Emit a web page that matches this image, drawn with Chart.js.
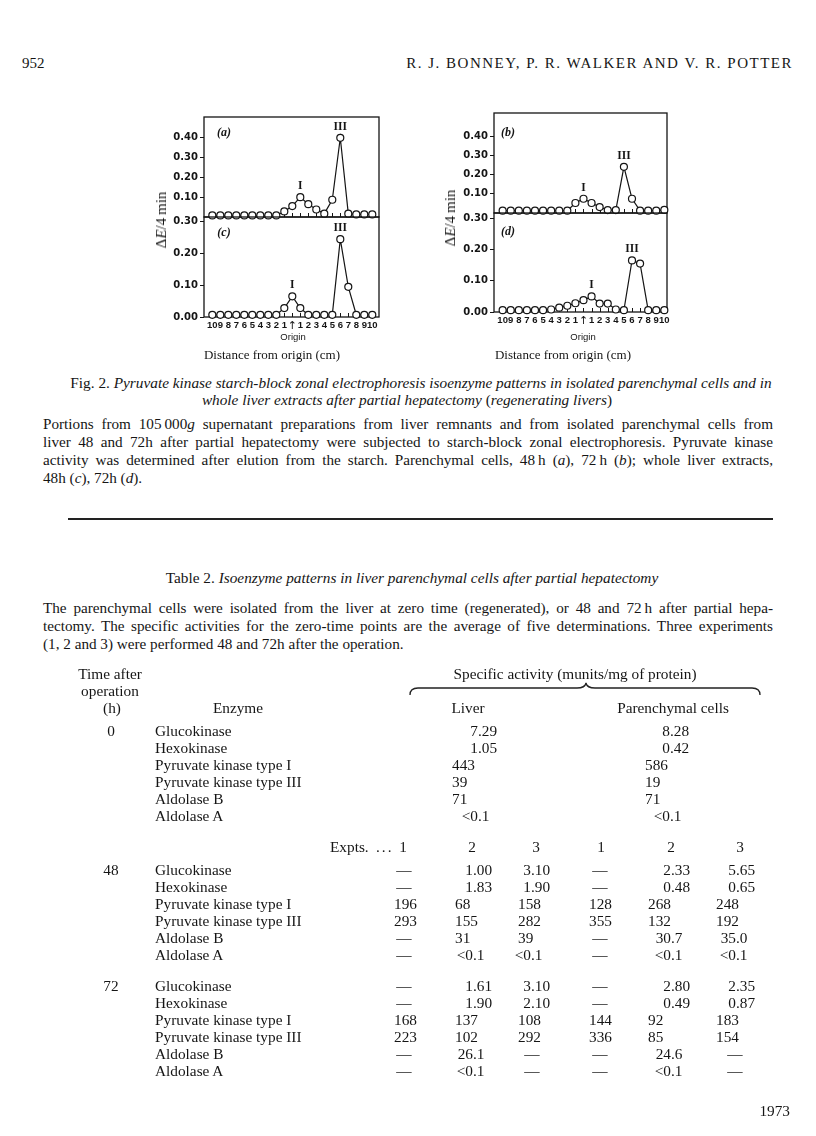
<!DOCTYPE html>
<html>
<head>
<meta charset="utf-8">
<title>Pyruvate kinase isoenzyme patterns</title>
<script src="https://cdn.jsdelivr.net/npm/chart.js@4.4.0/dist/chart.umd.min.js"></script>
<style>
  html, body { margin: 0; padding: 0; background: #fff; }
  body {
    width: 816px; height: 1136px; position: relative; overflow: hidden;
    font-family: "Liberation Serif", "Times New Roman", serif; color: #151515;
  }
  canvas { position: absolute; }
  .t { position: absolute; white-space: nowrap; font-size: 15.3px; line-height: 18px; }
  .jl {
    position: absolute; left: 43px; width: 730px; font-size: 15.2px; line-height: 18px;
    text-align: justify; text-align-last: justify;
  }
  .last { text-align-last: left; }
  .ytitle {
    position: absolute; font-size: 15px; line-height: 18px; white-space: nowrap;
    transform: translate(-50%, -50%) rotate(-90deg);
  }
  .origin { position: absolute; font-family: "Liberation Sans", sans-serif; font-size: 9.5px; line-height: 10px; transform: translateX(-50%); }
  .xtitle { position: absolute; font-size: 13px; line-height: 16px; white-space: nowrap; transform: translateX(-50%); }
</style>
</head>
<body>

<div class="t" style="left:22px; top:54px; font-size:15px;">952</div>
<div class="t" style="right:23px; top:54px; font-size:15px; letter-spacing:1.5px;">R. J. BONNEY, P. R. WALKER AND V. R. POTTER</div>

<!-- Fig. 2 panels -->
<canvas id="chartA" width="240" height="130" style="left:150px; top:95px;"></canvas>
<canvas id="chartC" width="240" height="132" style="left:150px; top:209px;"></canvas>
<canvas id="chartB" width="250" height="130" style="left:430px; top:91px;"></canvas>
<canvas id="chartD" width="250" height="132" style="left:430px; top:205px;"></canvas>

<div class="ytitle" style="left:161px; top:220px;">&Delta;<i>E</i>/4&#8201;min</div>
<div class="ytitle" style="left:450px; top:218px;">&Delta;<i>E</i>/4&#8201;min</div>
<div class="origin" style="left:293px; top:332px;">Origin</div>
<div class="origin" style="left:583px; top:332px;">Origin</div>
<div class="xtitle" style="left:272px; top:347px;">Distance from origin (cm)</div>
<div class="xtitle" style="left:563px; top:347px;">Distance from origin (cm)</div>

<div class="t" style="left:421px; top:374px; transform:translateX(-50%);">Fig. 2. <i>Pyruvate kinase starch-block zonal electrophoresis isoenzyme patterns in isolated parenchymal cells and in</i></div>
<div class="t" style="left:407px; top:391px; transform:translateX(-50%);"><i>whole liver extracts after partial hepatectomy</i> (<i>regenerating livers</i>)</div>

<div class="jl" style="top:415px;">Portions from 105&#8201;000<i>g</i> supernatant preparations from liver remnants and from isolated parenchymal cells from</div>
<div class="jl" style="top:433px;">liver 48 and 72h after partial hepatectomy were subjected to starch-block zonal electrophoresis. Pyruvate kinase</div>
<div class="jl" style="top:451px;">activity was determined after elution from the starch. Parenchymal cells, 48&#8201;h (<i>a</i>), 72&#8201;h (<i>b</i>); whole liver extracts,</div>
<div class="jl last" style="top:469px;">48h (<i>c</i>), 72h (<i>d</i>).</div>

<div style="position:absolute; left:68px; top:518px; width:705px; height:2px; background:#222;"></div>

<div class="t" style="left:412px; top:569px; transform:translateX(-50%);">Table 2. <i>Isoenzyme patterns in liver parenchymal cells after partial hepatectomy</i></div>
<div class="jl" style="top:599px;">The parenchymal cells were isolated from the liver at zero time (regenerated), or 48 and 72&#8201;h after partial hepa-</div>
<div class="jl" style="top:617px;">tectomy. The specific activities for the zero-time points are the average of five determinations. Three experiments</div>
<div class="jl last" style="top:635px;">(1, 2 and 3) were performed 48 and 72h after the operation.</div>

<svg style="position:absolute; left:0; top:0;" width="816" height="1136">
  <path d="M410,695 Q410,688 418,688 L577,688 Q585,688 586,683 Q587,688 595,688 L752,688 Q760,688 760,695"
        fill="none" stroke="#222" stroke-width="1.3"/>
</svg>

<div id="table"></div>

<div class="t" style="right:26px; top:1102px;">1973</div>

<script>
// Distance from origin (cm), one sampling point per cm of the starch block
const distances = [-10, -9, -8, -7, -6, -5, -4, -3, -2, -1, 0, 1, 2, 3, 4, 5, 6, 7, 8, 9, 10];
const xTickLabels = ['10', '9', '8', '7', '6', '5', '4', '3', '2', '1', '\u2191', '1', '2', '3', '4', '5', '6', '7', '8', '9', '10'];

// Delta E / 4 min for each panel
const activityA = [0.008, 0.008, 0.008, 0.008, 0.008, 0.008, 0.008, 0.008, 0.008, 0.028, 0.055, 0.100, 0.065, 0.038, 0.017, 0.087, 0.400, 0.017, 0.013, 0.013, 0.013];
const activityB = [0.012, 0.012, 0.012, 0.012, 0.012, 0.012, 0.012, 0.012, 0.012, 0.052, 0.074, 0.052, 0.031, 0.015, 0.015, 0.240, 0.074, 0.012, 0.012, 0.012, 0.016];
const activityC = [0.007, 0.007, 0.007, 0.007, 0.007, 0.007, 0.007, 0.007, 0.007, 0.028, 0.065, 0.028, 0.007, 0.007, 0.007, 0.007, 0.245, 0.095, 0.007, 0.007, 0.007];
const activityD = [0.006, 0.006, 0.006, 0.006, 0.006, 0.006, 0.008, 0.014, 0.020, 0.028, 0.038, 0.050, 0.027, 0.027, 0.008, 0.006, 0.165, 0.155, 0.006, 0.006, 0.006];

// Tick labels on the upper and lower panels
const yTicksUpper = [0.10, 0.20, 0.30, 0.40];
const yTicksLower = [0.00, 0.10, 0.20, 0.30];

const INK = '#151515';

/**
 * Frame, inner ticks and panel labels
 */
const panelDecor = {
    id: 'panelDecor',
    beforeDatasetsDraw(chart) {
        const { ctx, chartArea: a, scales: { x } } = chart;
        ctx.save();
        ctx.strokeStyle = INK;
        ctx.lineWidth = 1.3;
        ctx.strokeRect(a.left, a.top, a.right - a.left, a.bottom - a.top);

        // short ticks pointing up from the bottom edge
        ctx.lineWidth = 1;
        ctx.beginPath();
        distances.forEach(d => {
            const px = Math.round(x.getPixelForValue(d)) + 0.5;
            ctx.moveTo(px, a.bottom);
            ctx.lineTo(px, a.bottom - 4);
        });
        ctx.stroke();
        ctx.restore();
    },
    afterDatasetsDraw(chart, args, opts) {
        const { ctx, chartArea: a, scales: { x, y } } = chart;
        const points = chart.data.datasets[0].data;
        ctx.save();
        ctx.fillStyle = INK;
        ctx.textAlign = 'center';
        ctx.textBaseline = 'middle';
        ctx.font = 'italic bold 12px "Liberation Serif"';
        ctx.fillText(opts.letter, a.left + opts.dx, a.top + opts.dy);

        ctx.font = 'bold 11.5px "Liberation Serif"';
        (opts.peaks || []).forEach(p => {
            const pt = points.find(q => q.x === p.x);
            ctx.fillText(p.text, x.getPixelForValue(p.x), y.getPixelForValue(pt.y) - 11);
        });
        ctx.restore();
    }
};

/**
 * One panel of Fig. 2
 */
function buildPanel(canvasId, values, cfg) {
    const ctx = document.getElementById(canvasId).getContext('2d');

    return new Chart(ctx, {
        type: 'line',
        data: {
            datasets: [{
                data: distances.map((d, i) => ({ x: d, y: values[i] })),
                borderColor: INK,
                borderWidth: 1.2,
                pointRadius: 3.5,
                pointBackgroundColor: '#fff',
                pointBorderColor: INK,
                pointBorderWidth: 1.2,
                tension: 0,
                clip: false
            }]
        },
        plugins: [panelDecor],
        options: {
            responsive: false,
            animation: false,
            devicePixelRatio: 1,
            events: [],
            layout: { padding: cfg.padding },
            plugins: {
                legend: { display: false },
                tooltip: { enabled: false },
                panelDecor: { letter: cfg.letter, dx: cfg.dx, dy: cfg.dy, peaks: cfg.peaks }
            },
            scales: {
                x: {
                    type: 'linear',
                    min: cfg.xMin,
                    max: cfg.xMax,
                    display: cfg.showX,
                    afterBuildTicks: axis => { axis.ticks = distances.map(v => ({ value: v })); },
                    afterFit: axis => { axis.height = cfg.xHeight || 0; },
                    grid: { display: false, drawTicks: false },
                    border: { display: false },
                    ticks: {
                        autoSkip: false,
                        maxRotation: 0,
                        minRotation: 0,
                        padding: 3,
                        color: INK,
                        // the origin arrow is a bit taller than the digits
                        font: c => c.index === 10
                            ? { family: 'DejaVu Sans', weight: 'normal', size: 11 }
                            : { family: 'Liberation Sans', weight: 'bold', size: 9.5 },
                        callback: (v, i) => xTickLabels[i]
                    }
                },
                y: {
                    min: 0,
                    max: cfg.yMax,
                    afterBuildTicks: axis => { axis.ticks = cfg.yTicks.map(v => ({ value: v })); },
                    afterFit: axis => { axis.width = cfg.yWidth; },
                    grid: { drawOnChartArea: false, drawTicks: true, tickLength: 4, tickColor: INK, tickWidth: 1 },
                    border: { display: false },
                    ticks: {
                        padding: 2,
                        color: INK,
                        font: { family: 'DejaVu Sans', weight: 'bold', size: 10 },
                        callback: v => v.toFixed(2)
                    }
                }
            }
        }
    });
}

buildPanel('chartA', activityA, {
    xMin: -11.04, xMax: 10.84, yMax: 0.505, yTicks: yTicksUpper, yWidth: 54, showX: false,
    padding: { top: 22, right: 11, bottom: 8, left: 0 },
    letter: '(a)', dx: 20, dy: 16,
    peaks: [{ x: 1, text: 'I' }, { x: 6, text: 'III' }]
});
buildPanel('chartC', activityC, {
    xMin: -11.04, xMax: 10.84, yMax: 0.315, yTicks: yTicksLower, yWidth: 54, showX: true, xHeight: 24,
    padding: { top: 8, right: 11, bottom: 0, left: 0 },
    letter: '(c)', dx: 20, dy: 16,
    peaks: [{ x: 0, text: 'I' }, { x: 6, text: 'III' }]
});
buildPanel('chartB', activityB, {
    xMin: -11.07, xMax: 10.33, yMax: 0.52, yTicks: yTicksUpper, yWidth: 64, showX: false,
    padding: { top: 22, right: 13, bottom: 8, left: 0 },
    letter: '(b)', dx: 14, dy: 20,
    peaks: [{ x: 0, text: 'I' }, { x: 5, text: 'III' }]
});
buildPanel('chartD', activityD, {
    xMin: -11.07, xMax: 10.33, yMax: 0.317, yTicks: yTicksLower, yWidth: 64, showX: true, xHeight: 25,
    padding: { top: 8, right: 13, bottom: 0, left: 0 },
    letter: '(d)', dx: 14, dy: 19,
    peaks: [{ x: 1, text: 'I' }, { x: 6, text: 'III' }]
});

// ---- Table 2 ----
const tableZero = [
    ['Glucokinase', '7.29', '8.28'],
    ['Hexokinase', '1.05', '0.42'],
    ['Pyruvate kinase type I', '443', '586'],
    ['Pyruvate kinase type III', '39', '19'],
    ['Aldolase B', '71', '71'],
    ['Aldolase A', '<0.1', '<0.1']
];
const table48 = [
    ['Glucokinase', '—', '1.00', '3.10', '—', '2.33', '5.65'],
    ['Hexokinase', '—', '1.83', '1.90', '—', '0.48', '0.65'],
    ['Pyruvate kinase type I', '196', '68', '158', '128', '268', '248'],
    ['Pyruvate kinase type III', '293', '155', '282', '355', '132', '192'],
    ['Aldolase B', '—', '31', '39', '—', '30.7', '35.0'],
    ['Aldolase A', '—', '<0.1', '<0.1', '—', '<0.1', '<0.1']
];
const table72 = [
    ['Glucokinase', '—', '1.61', '3.10', '—', '2.80', '2.35'],
    ['Hexokinase', '—', '1.90', '2.10', '—', '0.49', '0.87'],
    ['Pyruvate kinase type I', '168', '137', '108', '144', '92', '183'],
    ['Pyruvate kinase type III', '223', '102', '292', '336', '85', '154'],
    ['Aldolase B', '—', '26.1', '—', '—', '24.6', '—'],
    ['Aldolase A', '—', '<0.1', '—', '—', '<0.1', '—']
];

const tableEl = document.getElementById('table');

function addText(html, x, y, align, style) {
    const el = document.createElement('div');
    el.className = 't';
    el.innerHTML = html;
    el.style.left = x + 'px';
    el.style.top = (y - 9) + 'px';
    if (align === 'center') el.style.transform = 'translateX(-50%)';
    if (align === 'right') el.style.transform = 'translateX(-100%)';
    if (style) el.style.cssText += style;
    tableEl.appendChild(el);
}

function esc(s) {
    return s.replace(/</g, '&lt;');
}

// integers start at the column edge, decimals line up on the point
function placeValue(v, col, y) {
    if (v === '—') {
        addText('—', col.dash, y, 'center');
    } else if (v.indexOf('.') >= 0) {
        const k = v.indexOf('.');
        addText(esc(v.slice(0, k)), col.point, y, 'right');
        addText(v.slice(k), col.point, y, 'left');
    } else {
        addText(esc(v), col.start, y, 'left');
    }
}

const zeroCols = [{ start: 452, point: 478, dash: 464 }, { start: 645, point: 670, dash: 656 }];
const exptCols = [
    { start: 394, point: 410, dash: 404 },
    { start: 455, point: 473, dash: 466 },
    { start: 518, point: 531, dash: 532 },
    { start: 589, point: 604, dash: 600 },
    { start: 648, point: 671, dash: 665 },
    { start: 716, point: 736, dash: 735 }
];
const exptHeads = ['1', '2', '3', '1', '2', '3'];
const exptHeadX = [403, 472, 536, 601, 671, 740];

// header
addText('Time after', 110, 674, 'center');
addText('operation', 110, 691, 'center');
addText('(h)', 112, 708, 'center');
addText('Enzyme', 238, 708, 'center');
addText('Specific activity (munits/mg of protein)', 575, 674, 'center');
addText('Liver', 468, 708, 'center');
addText('Parenchymal cells', 673, 708, 'center');

function placeBlock(label, rows, cols, y0) {
    addText(label, 111, y0, 'center');
    rows.forEach((row, r) => {
        const y = y0 + r * 17;
        addText(row[0], 155, y, 'left');
        row.slice(1).forEach((v, c) => placeValue(v, cols[c], y));
    });
}

placeBlock('0', tableZero, zeroCols, 731);

addText('Expts.', 330, 847, 'left');
addText('...', 376, 847, 'left', 'letter-spacing:2px;');
exptHeads.forEach((h, i) => addText(h, exptHeadX[i], 847, 'center'));

placeBlock('48', table48, exptCols, 870);
placeBlock('72', table72, exptCols, 986);
</script>
</body>
</html>
